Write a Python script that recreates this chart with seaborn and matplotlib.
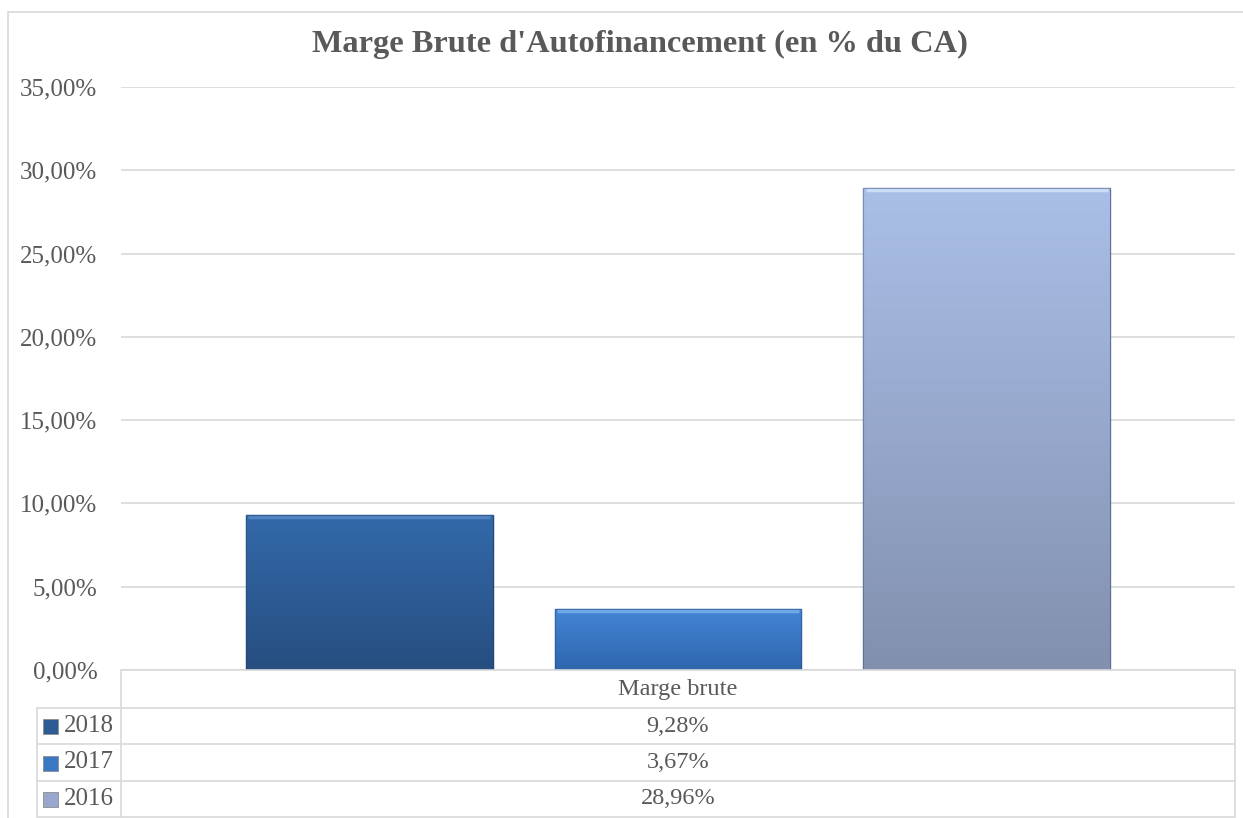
"""Marge Brute d'Autofinancement — barres groupées + tableau de données (style Excel)."""

import numpy as np
import pandas as pd
import matplotlib

matplotlib.use("Agg")

import matplotlib.pyplot as plt
import matplotlib.colors as mcolors
from matplotlib.lines import Line2D
from matplotlib.patches import Rectangle
from matplotlib.ticker import FuncFormatter
import seaborn as sns

# données
categorie = "Marge brute"
annees = ["2018", "2017", "2016"]
valeurs = [9.28, 3.67, 28.96]  # en %

# dégradés (haut, bas) par série
couleurs_haut = ["#3469AA", "#4486D6", "#AABFE8"]
couleurs_bas = ["#264E80", "#2F66AE", "#8290AE"]
couleurs_reflet = ["#5B8BC8", "#7DB2F0", "#D6E6FA"]
couleurs_legende = ["#2D5C94", "#3A78C4", "#98A8CC"]

titre = "Marge Brute d'Autofinancement (en % du CA)"
y_max = 35
y_pas = 5

sns.set_theme(style="white")
plt.rcParams["font.family"] = ["Liberation Serif", "DejaVu Serif"]

texte_gris = "#595959"
ligne_grise = "#D9D9D9"

df = pd.DataFrame({"categorie": [categorie] * len(annees), "annee": annees, "valeur": valeurs})

fig = plt.figure(figsize=(12.43, 8.18), dpi=100)
W, H = 1243, 818


def fx(px):
    return px / W


def fy(py):
    return 1 - py / H


ax = fig.add_axes([fx(121), fy(670), fx(1235) - fx(121), fy(87) - fy(670)])

sns.barplot(
    data=df, x="categorie", y="valeur", hue="annee", hue_order=annees,
    palette=couleurs_legende, width=0.831, gap=0.2, ax=ax, legend=False,
    saturation=1,
)

# dégradé vertical dans chaque barre, avec reflet en haut
for patch, c_haut, c_bas, c_ref in zip(ax.patches, couleurs_haut, couleurs_bas, couleurs_reflet):
    x0, y0 = patch.get_x(), patch.get_y()
    w, h = patch.get_width(), patch.get_height()
    cmap = mcolors.LinearSegmentedColormap.from_list("g", [c_bas, c_haut])
    grad = np.linspace(0, 1, 256).reshape(-1, 1)
    im = ax.imshow(grad, cmap=cmap, aspect="auto", origin="lower",
                   extent=[x0, x0 + w, y0, y0 + h], zorder=patch.get_zorder() + 0.1)
    im.set_clip_path(patch)
    patch.set_edgecolor(mcolors.to_rgba(c_bas, 1))
    patch.set_linewidth(1.0)
    # reflet du biseau supérieur
    ax.plot([x0 + w * 0.01, x0 + w * 0.99], [y0 + h - 0.12, y0 + h - 0.12],
            color=c_ref, lw=2.5, alpha=0.8, solid_capstyle="butt",
            zorder=patch.get_zorder() + 0.15)
    # liseré sombre
    ax.add_patch(Rectangle((x0, y0), w, h, fill=False, edgecolor="#1F3A5F",
                           linewidth=0.8, alpha=0.35, zorder=patch.get_zorder() + 0.2))

ax.set_xlim(-0.5, 0.5)
ax.set_ylim(0, y_max)
ax.set_yticks(np.arange(0, y_max + 0.1, y_pas))
ax.yaxis.set_major_formatter(FuncFormatter(lambda v, _: f"{v:.2f}%".replace(".", ",")))
ax.tick_params(axis="y", labelsize=18, labelcolor=texte_gris, length=0, pad=17)
ax.set_xticks([])
ax.set_xlabel("")
ax.set_ylabel("")
ax.grid(axis="y", color=ligne_grise, linewidth=1.2)
ax.set_axisbelow(True)
for s in ax.spines.values():
    s.set_visible(False)

fig.text(fx(640), fy(44), titre, ha="center", va="center", fontsize=23.3,
         fontweight="bold", color=texte_gris)

# cadre du graphique
fig.add_artist(Line2D([fx(8), fx(8)], [fy(12), fy(818)], color=ligne_grise, lw=1.2))
fig.add_artist(Line2D([fx(8), fx(1243)], [fy(12), fy(12)], color=ligne_grise, lw=1.2))

# tableau de données
lignes_y = [670, 708, 744, 781, 817]
col_leg, col_val, col_fin = 37, 121, 1235
for i, y in enumerate(lignes_y):
    x_debut = col_val if i == 0 else col_leg
    fig.add_artist(Line2D([fx(x_debut), fx(col_fin)], [fy(y), fy(y)], color=ligne_grise, lw=1.2))
fig.add_artist(Line2D([fx(col_val), fx(col_val)], [fy(670), fy(817)], color=ligne_grise, lw=1.2))
fig.add_artist(Line2D([fx(col_fin), fx(col_fin)], [fy(670), fy(817)], color=ligne_grise, lw=1.2))
fig.add_artist(Line2D([fx(col_leg), fx(col_leg)], [fy(708), fy(817)], color=ligne_grise, lw=1.2))

fig.text(fx((col_val + col_fin) / 2), fy(690), categorie, ha="center",
         va="center", fontsize=17.5, color=texte_gris)

for i, (annee, val, c) in enumerate(zip(annees, valeurs, couleurs_legende)):
    y_c = (lignes_y[i + 1] + lignes_y[i + 2]) / 2
    fig.add_artist(Rectangle((fx(43), fy(y_c + 8)), fx(15), fy(y_c - 7) - fy(y_c + 8),
                             facecolor=c, edgecolor="#8C8C8C", lw=0.6))
    fig.text(fx(64), fy(y_c), annee, ha="left", va="center", fontsize=18, color=texte_gris)
    fig.text(fx((col_val + col_fin) / 2), fy(y_c), f"{val:.2f}%".replace(".", ","),
             ha="center", va="center", fontsize=17.5, color=texte_gris)

fig.savefig("out.png", dpi=100, facecolor="white")
